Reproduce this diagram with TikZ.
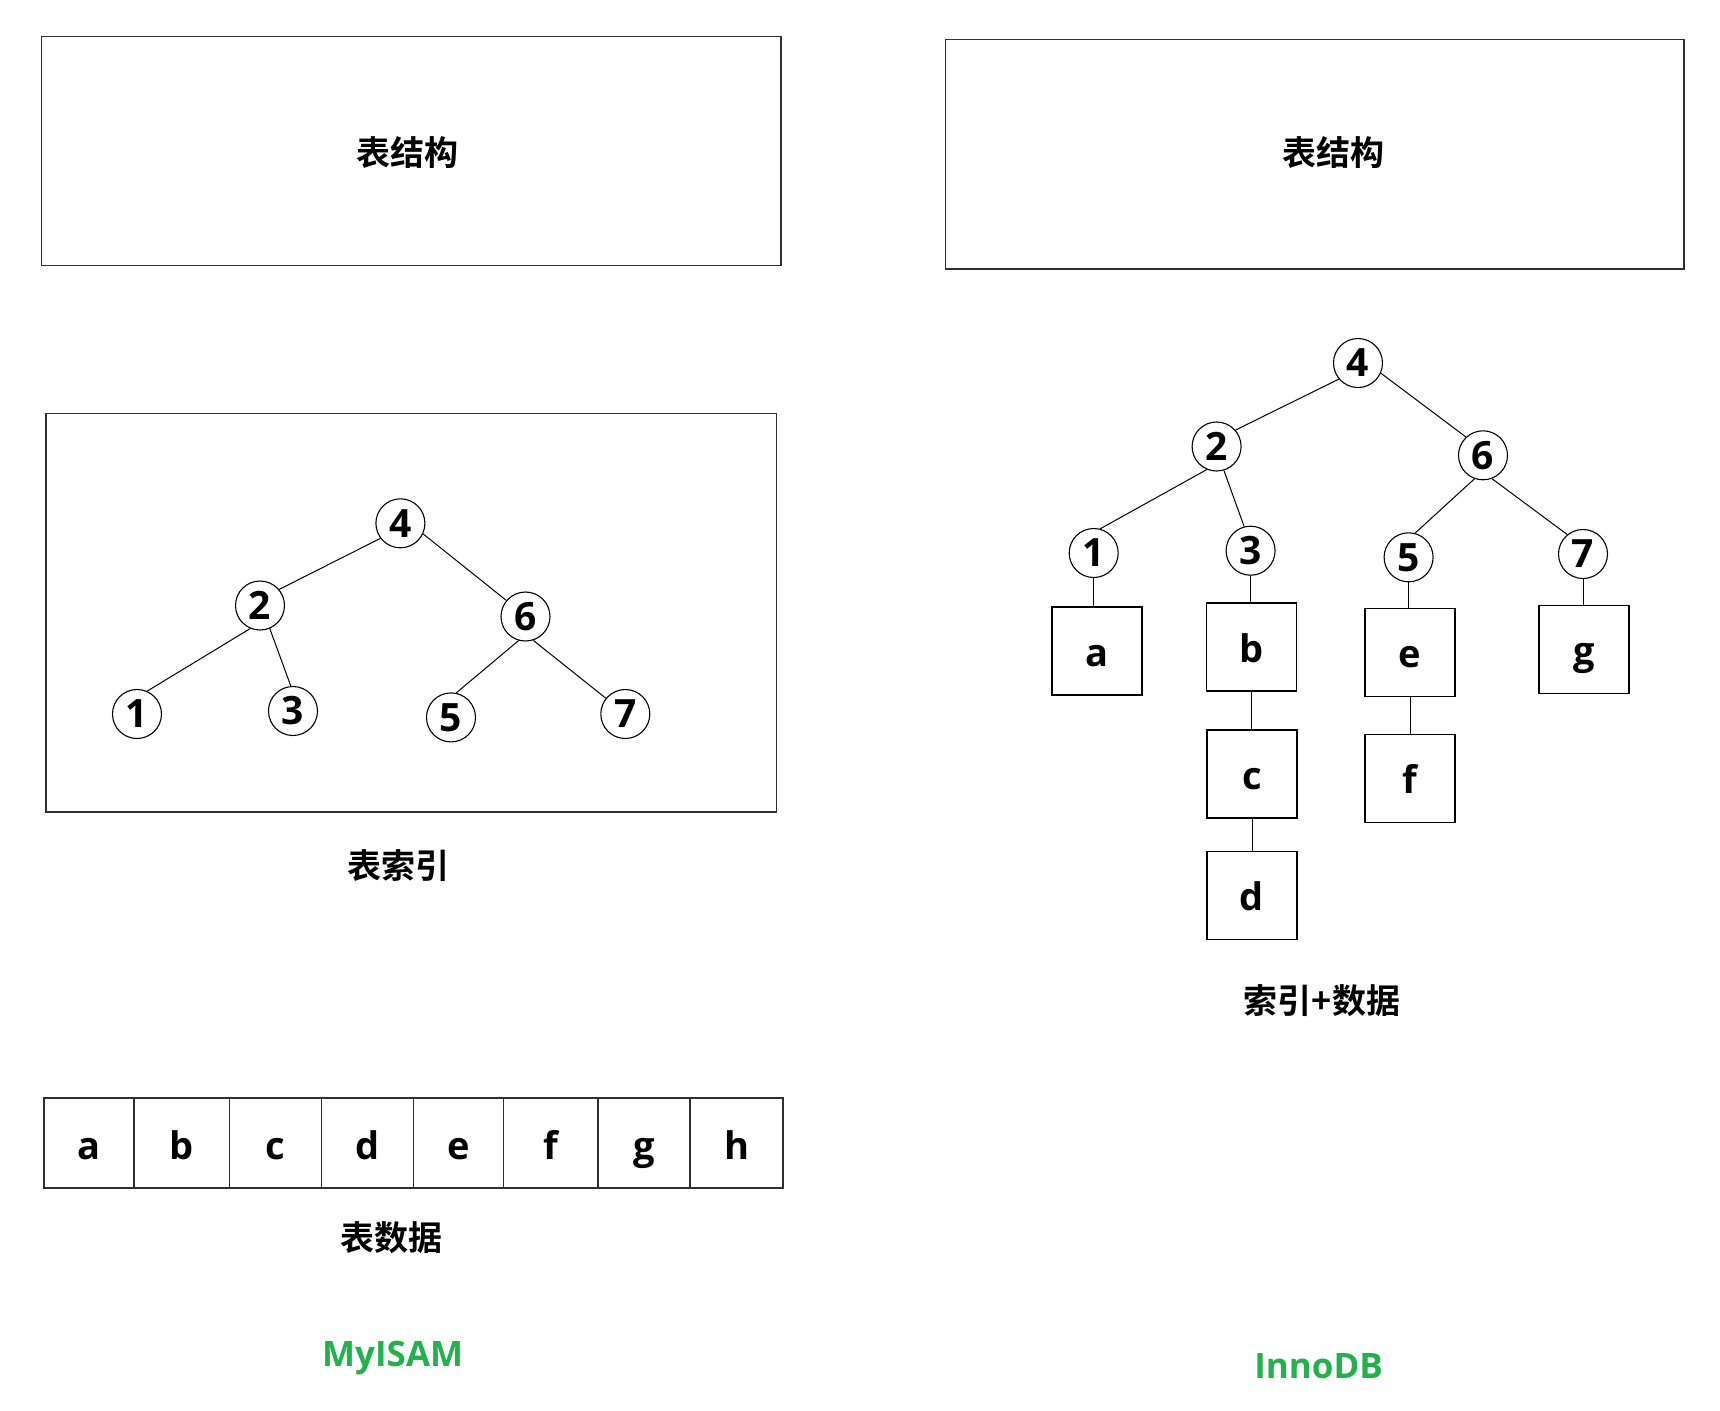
\documentclass[tikz,border=0pt]{standalone}
\usepackage{fontspec}
\setmainfont{Open Sans}[BoldFont={Open Sans Bold}]
\newfontfamily\cjk{Noto Sans CJK SC}[BoldFont={Noto Sans CJK SC Bold}]
\definecolor{paintgreen}{HTML}{22B14C}
\definecolor{boxline}{HTML}{303030}
\tikzset{
  bigbox/.style={draw=boxline, line width=0.75pt, inner sep=0pt},
  cnlabel/.style={font=\cjk\bfseries\fontsize{17}{20}\selectfont, inner sep=0pt},
  numnode/.style={draw=black, circle, line width=0.55pt, minimum size=24.5pt, inner sep=0pt,
    font=\bfseries\fontsize{19.5}{21}\selectfont},
  cell/.style={draw=boxline, line width=0.7pt, minimum height=45pt, inner sep=0pt,
    text height=16pt, text depth=0pt,
    font=\bfseries\fontsize{19}{21}\selectfont},
  databox/.style={draw=black, line width=0.65pt, minimum width=45pt, minimum height=44pt, inner sep=0pt,
    text height=15pt, text depth=0pt,
    font=\bfseries\fontsize{19}{21}\selectfont},
  engine/.style={text=paintgreen, font=\bfseries\fontsize{17.5}{20}\selectfont, inner sep=0pt},
  edge/.style={draw=black, line width=0.5pt}
}
\begin{document}
\begin{tikzpicture}[x=0.5pt,y=-0.5pt]
\useasboundingbox[fill=white] (0,0) rectangle (1720,1410);

% ---------- MyISAM ----------
\node[bigbox, minimum width=369.7pt, minimum height=114.6pt] (struct1) at (411.4,150.9) {};
\node[cnlabel] (struct1lbl) at (407,152.5) {表结构};

\node[bigbox, minimum width=365.3pt, minimum height=199.1pt] (idxbox) at (411.4,612.7) {};
\node[numnode] (L4) at (400.4,523.3) {4};
\node[numnode] (L2) at (260,605.5) {2};
\node[numnode] (L6) at (525.5,616.5) {6};
\node[numnode] (L1) at (137,714) {1};
\node[numnode] (L3) at (293,711) {3};
\node[numnode] (L5) at (451,717.4) {5};
\node[numnode] (L7) at (625.3,714) {7};
\draw[edge] (L4.217) -- (L2.40);
\draw[edge] (L4.-25) -- (L6.140);
\draw[edge] (L2.247) -- (L1.66);
\draw[edge] (L2.293) -- (L3.95);
\draw[edge] (L6.254) -- (L5.78);
\draw[edge] (L6.288) -- (L7.141);
\node[cnlabel] (idxlbl) at (398,865.5) {表索引};

\node[cell, minimum width=44.95pt] (ca) at (88.9,1143) {a};
\node[cell, minimum width=47.75pt] (cb) at (181.6,1143) {b};
\node[cell, minimum width=46.05pt] (cc) at (275.4,1143) {c};
\node[cell, minimum width=46.1pt] (cd) at (367.5,1143) {d};
\node[cell, minimum width=44.95pt] (ce) at (458.6,1143) {e};
\node[cell, minimum width=47.2pt] (cf) at (550.7,1143) {f};
\node[cell, minimum width=46.05pt] (cg) at (644,1143) {g};
\node[cell, minimum width=46.5pt] (ch) at (736.5,1143) {h};
\node[cnlabel] (datalbl) at (391.6,1237.4) {表数据};

\node[engine] (myisam) at (392.7,1358) {MyISAM};

% ---------- InnoDB ----------
\node[bigbox, minimum width=369.2pt, minimum height=114.6pt] (struct2) at (1314.8,154.2) {};
\node[cnlabel] (struct2lbl) at (1333,152.5) {表结构};

\node[numnode] (R4) at (1358,363) {4};
\node[numnode] (R2) at (1216.6,446.5) {2};
\node[numnode] (R6) at (1483,455.3) {6};
\node[numnode] (R1) at (1093.7,553) {1};
\node[numnode] (R3) at (1250.6,550.7) {3};
\node[numnode] (R5) at (1408.6,557.3) {5};
\node[numnode] (R7) at (1583,554) {7};
\draw[edge] (R4.220) -- (R2.41);
\draw[edge] (R4.-24) -- (R6.133);
\draw[edge] (R2.247) -- (R1.75);
\draw[edge] (R2.287) -- (R3.105);
\draw[edge] (R6.250) -- (R5.75);
\draw[edge] (R6.291) -- (R7.129);

\node[databox] (Ba) at (1097,651) {a};
\node[databox] (Bb) at (1251.7,647) {b};
\node[databox] (Bc) at (1252,774) {c};
\node[databox] (Bd) at (1252,895.7) {d};
\node[databox] (Be) at (1410,652.7) {e};
\node[databox] (Bf) at (1410,778.4) {f};
\node[databox] (Bg) at (1584,649.5) {g};

\draw[edge] (R1.south) -- (R1.south |- Ba.north);
\draw[edge] (R3.south) -- (R3.south |- Bb.north);
\draw[edge] (R5.south) -- (R5.south |- Be.north);
\draw[edge] (R7.south) -- (R7.south |- Bg.north);
\draw[edge] (Bb.south) -- (Bb.south |- Bc.north);
\draw[edge] (Bc.south) -- (Bc.south |- Bd.north);
\draw[edge] (Be.south) -- (Be.south |- Bf.north);

\node[cnlabel] (mixlbl) at (1322,1000.5) {索引+数据};
\node[engine] (innodb) at (1318.6,1365.8) {InnoDB};
\end{tikzpicture}
\end{document}
